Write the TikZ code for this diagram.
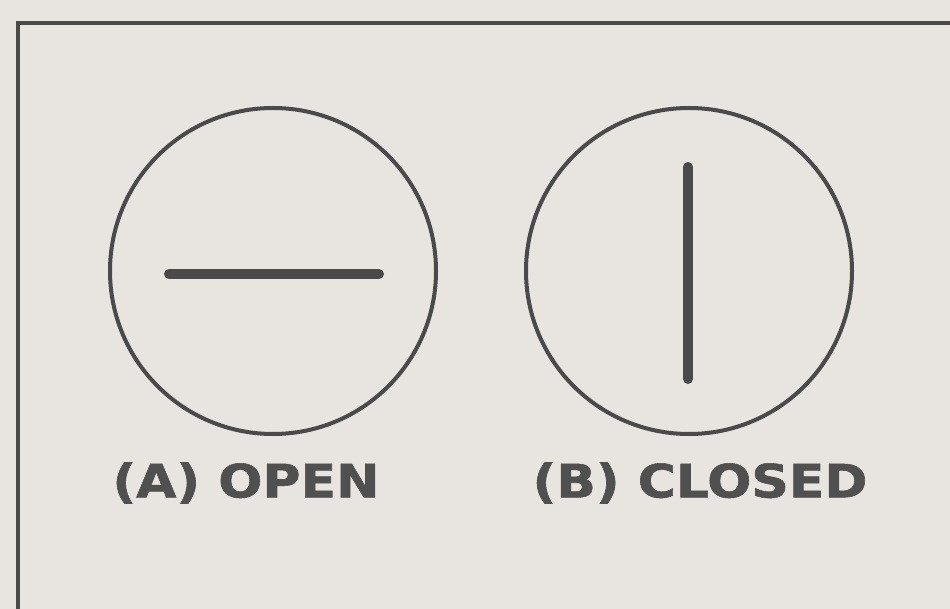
\documentclass[tikz,border=0pt]{standalone}
\usepackage{fontspec}
\usepackage{xcolor}
\usepackage{tikz}
\usetikzlibrary{positioning, calc}
\newfontfamily\labelfont[FakeBold=1.2]{DejaVu Sans}
\definecolor{paper}{HTML}{E8E4DF}
\definecolor{ink}{HTML}{4A4A4A}
\definecolor{labelink}{HTML}{505050}

\begin{document}
\begin{tikzpicture}[x=1pt, y=-1pt,
    dial/.style={circle, draw=ink, line width=4pt, minimum size=326pt, inner sep=0pt},
    blade/.style={ink, line width=10pt, line cap=round},
    caption/.style={font=\labelfont\bfseries\fontsize{46}{50}\selectfont, text=labelink, xscale=1.13, inner sep=0pt}]
  % Paper and frame
  \fill[paper] (0, 0) rectangle (950, 609);
  \useasboundingbox (0, 0) rectangle (950, 609);
  \draw[ink, line width=4pt] (18, 615) -- (18, 23) -- (960, 23);
  % Dials
  \node[dial] (opendial) at (273, 271) {};
  \node[dial] (closeddial) at (689, 271) {};
  % Blades
  \draw[blade] ($(opendial.center) + (-104, 3)$) -- ($(opendial.center) + (106, 3)$);
  \draw[blade] ($(closeddial.center) + (-1, -104)$) -- ($(closeddial.center) + (-1, 108)$);
  % Captions
  \node[caption] (openlabel) at (246, 483) {(A) OPEN};
  \node[caption] (closedlabel) at (700, 483) {(B) CLOSED};
\end{tikzpicture}
\end{document}
